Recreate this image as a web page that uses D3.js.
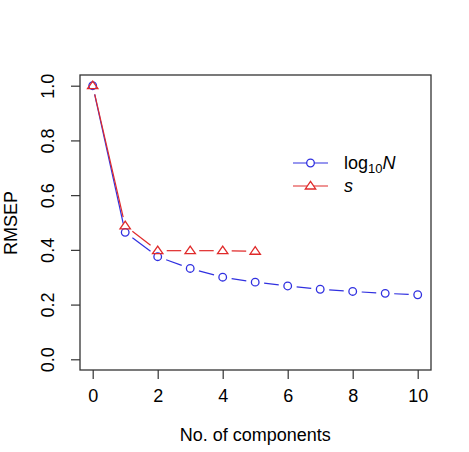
<!DOCTYPE html>
<html><head><meta charset="utf-8">
<script src="https://cdn.jsdelivr.net/npm/d3@7"></script>
<style>body{margin:0;background:#fff}svg{display:block}text{font-family:"Liberation Sans",Arial,Helvetica,sans-serif;fill:#000}</style>
</head><body>
<script>
const components = [0,1,2,3,4,5,6,7,8,9,10];
const log10N = [1.0,0.464,0.375,0.332,0.300,0.282,0.268,0.256,0.248,0.241,0.236];
const sVals = [1.0,0.488,0.397,0.397,0.397,0.395];
const xTicks = [0,2,4,6,8,10];
const yTicks = [0.0,0.2,0.4,0.6,0.8,1.0];
const xTitle = "No. of components";
const yTitle = "RMSEP";

const W=469,H=452;
const svg=d3.select("body").append("svg").attr("width",W).attr("height",H);
const box={l:80,r:431,t:75,b:370};
const x=d3.scaleLinear().domain([0,10]).range([92.7,417.7]);
const y=d3.scaleLinear().domain([0,1]).range([359.3,85.7]);
const fs=18;

svg.append("rect").attr("x",box.l).attr("y",box.t).attr("width",box.r-box.l).attr("height",box.b-box.t)
  .attr("fill","none").attr("stroke","#333").attr("stroke-width",1.3);

// x axis
const xa=svg.append("g").attr("transform",`translate(0,${box.b})`)
  .call(d3.axisBottom(x).tickValues(xTicks).tickSize(9).tickPadding(10).tickFormat(d3.format("d")));
xa.select(".domain").remove();
xa.selectAll("line").attr("stroke","#333").attr("stroke-width",1.2);
xa.selectAll("text").attr("font-size",fs).style("font-family","Liberation Sans, Arial, sans-serif").attr("fill","#000");

// y axis
const ya=svg.append("g").attr("transform",`translate(${box.l},0)`)
  .call(d3.axisLeft(y).tickValues(yTicks).tickSize(9).tickFormat(d3.format(".1f")));
ya.select(".domain").remove();
ya.selectAll("line").attr("stroke","#333").attr("stroke-width",1.2);
ya.selectAll("text").attr("font-size",fs).style("font-family","Liberation Sans, Arial, sans-serif").attr("fill","#000")
  .attr("x",null).attr("dy",null).attr("text-anchor","middle")
  .attr("transform","translate(-32,0) rotate(-90)").attr("dy","0.35em");

svg.append("text").attr("x",(x(0)+x(10))/2).attr("y",441).attr("text-anchor","middle").attr("font-size",fs).text(xTitle);
svg.append("text").attr("transform","translate(17,223) rotate(-90)").attr("text-anchor","middle").attr("font-size",fs).text(yTitle);

const blue="#3030e0", red="#e02a2a";
const gap=9;
function gappedLines(g,xs,ys,color){
  for(let i=0;i<xs.length-1;i++){
    const x1=x(xs[i]),y1=y(ys[i]),x2=x(xs[i+1]),y2=y(ys[i+1]);
    const dx=x2-x1,dy=y2-y1,L=Math.hypot(dx,dy);
    if(L<=2*gap) continue;
    const ux=dx/L,uy=dy/L;
    g.append("line").attr("x1",x1+ux*gap).attr("y1",y1+uy*gap).attr("x2",x2-ux*gap).attr("y2",y2-uy*gap)
      .attr("stroke",color).attr("stroke-width",1.2);
  }
}
const triPath=(cx,cy,r)=>`M${cx},${cy-r*1.15}L${cx+r*1.3},${cy+r*0.75}L${cx-r*1.3},${cy+r*0.75}Z`;

const gB=svg.append("g"), gR=svg.append("g");
gappedLines(gB,components,log10N,blue);
gB.selectAll("circle").data(components).join("circle").attr("cx",d=>x(d)).attr("cy",(d,i)=>y(log10N[i])).attr("r",3.8)
  .attr("fill","none").attr("stroke",blue).attr("stroke-width",1.3);
const sComp=components.slice(0,sVals.length);
gappedLines(gR,sComp,sVals,red);
gR.selectAll("path").data(sComp).join("path").attr("d",(d,i)=>triPath(x(d),y(sVals[i]),4))
  .attr("fill","none").attr("stroke",red).attr("stroke-width",1.3);

// legend
const lg=svg.append("g");
const rows=[{c:blue,sym:"c",yy:163},{c:red,sym:"t",yy:186}];
rows.forEach(r=>{
  lg.append("line").attr("x1",293).attr("x2",328).attr("y1",r.yy).attr("y2",r.yy).attr("stroke",r.c).attr("stroke-width",1.2);
  if(r.sym==="c"){
    lg.append("circle").attr("cx",310.5).attr("cy",r.yy).attr("r",3.8).attr("fill","#fff").attr("stroke",r.c).attr("stroke-width",1.3);
  } else {
    lg.append("path").attr("d",triPath(310.5,r.yy,4)).attr("fill","#fff").attr("stroke",r.c).attr("stroke-width",1.3);
  }
});
const t1=lg.append("text").attr("x",344).attr("y",169).attr("font-size",fs);
t1.append("tspan").text("log");
t1.append("tspan").attr("font-size",13).attr("dy",4).text("10");
t1.append("tspan").attr("dy",-4).attr("font-style","italic").text("N");
lg.append("text").attr("x",344).attr("y",192).attr("font-size",fs).attr("font-style","italic").text("s");
</script>
</body></html>
